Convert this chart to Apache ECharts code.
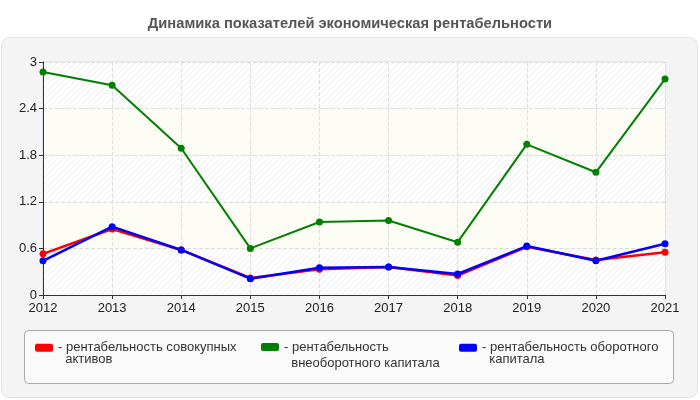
<!DOCTYPE html>
<html>
<head>
<meta charset="utf-8">
<script src="https://cdn.jsdelivr.net/npm/echarts@6/dist/echarts.min.js"></script>
<style>html,body{margin:0;padding:0;background:#fff}#c{width:700px;height:400px}</style>
</head>
<body>
<div id="c"></div>
<script>
const years = ['2012','2013','2014','2015','2016','2017','2018','2019','2020','2021'];
const seriesNames = ['рентабельность совокупных активов','рентабельность внеоборотного капитала','рентабельность оборотного капитала'];
const legendLines = [['рентабельность совокупных','активов'],['рентабельность','внеоборотного капитала'],['рентабельность оборотного','капитала']];
const totalAssets = [0.53, 0.85, 0.58, 0.22, 0.33, 0.36, 0.25, 0.62, 0.45, 0.55];
const nonCurrent = [2.87, 2.70, 1.89, 0.60, 0.94, 0.96, 0.68, 1.94, 1.58, 2.78];
const current = [0.44, 0.88, 0.58, 0.21, 0.35, 0.36, 0.27, 0.63, 0.44, 0.66];
const yTicks = [0, 0.6, 1.2, 1.8, 2.4, 3];
const colors = ['#ff0000','#008000','#0000ff'];

const pc = document.createElement('canvas');
pc.width = 6; pc.height = 6;
const g = pc.getContext('2d');
g.fillStyle = '#ffffff'; g.fillRect(0,0,6,6);
g.strokeStyle = '#ededed'; g.lineWidth = 1;
g.beginPath(); g.moveTo(0,6); g.lineTo(6,0); g.moveTo(-1,1); g.lineTo(1,-1); g.moveTo(5,7); g.lineTo(7,5); g.stroke();

const chart = echarts.init(document.getElementById('c'), null, {renderer:'canvas'});
const legendLeft = [35, 261, 459];
const legendLH = [11.5, 16, 11.5];
const dataArr = [totalAssets, nonCurrent, current];
chart.setOption({
  animation: false,
  graphic: [{type:'rect', z:-10, shape:{x:1.5,y:37.5,width:696,height:360,r:8}, style:{fill:'#f4f4f4', stroke:'#e2e2e2', lineWidth:1}},
            {type:'rect', z:-9, shape:{x:24.5,y:330.5,width:649,height:53,r:4}, style:{fill:'#fafafa', stroke:'#aaaaaa', lineWidth:1}}],
  title: {text:'Динамика показателей экономическая рентабельности', left:'center', top:11,
    textStyle:{fontFamily:'Arial, Liberation Sans', fontSize:14.7, fontWeight:'bold', color:'#555'}},
  grid: {left:43, top:62, right:35, bottom:105, show:true, borderColor:'#dddddd', borderWidth:1, backgroundColor:'transparent'},
  legend: seriesNames.map((n,i)=>({
    data:[n], left:legendLeft[i], top:345 - 1.5*legendLH[i] + 2, padding:0, itemWidth:18, itemHeight:8, icon:'roundRect',
    formatter: ()=> '\n- ' + legendLines[i][0] + '\n  ' + legendLines[i][1],
    textStyle:{fontFamily:'Arial, Liberation Sans', fontSize:13, color:'#333', lineHeight:legendLH[i]},
    selectedMode:false
  })),
  xAxis: {type:'category', data:years, boundaryGap:false,
    axisLine:{lineStyle:{color:'#333'}}, axisTick:{lineStyle:{color:'#333'}, length:4},
    axisLabel:{fontFamily:'Arial, Liberation Sans', fontSize:13, color:'#222', margin:7},
    splitLine:{show:true, lineStyle:{type:'dashed', color:'#dddddd'}}},
  yAxis: {type:'value', min:0, max:3, interval:0.6,
    axisLine:{show:true, lineStyle:{color:'#333'}}, axisTick:{show:true, lineStyle:{color:'#333'}, length:4},
    axisLabel:{fontFamily:'Arial, Liberation Sans', fontSize:13, color:'#222', margin:6,
      formatter:(v)=>{const t=yTicks.find(x=>Math.abs(x-v)<1e-6); return t===undefined?'':String(t);}},
    splitLine:{show:true, lineStyle:{type:'dashed', color:'#dddddd'}},
    splitArea:{show:true, areaStyle:{color:[{image:pc, repeat:'repeat'}, '#fdfdf6']}}},
  series: seriesNames.map((n,i)=>({
    name:n, type:'line', data:dataArr[i], symbol:'circle', symbolSize:7,
    itemStyle:{color:colors[i]}, lineStyle:{color:colors[i], width: i===1?2:2.5}, z: 2+i
  }))
});
</script>
</body>
</html>
